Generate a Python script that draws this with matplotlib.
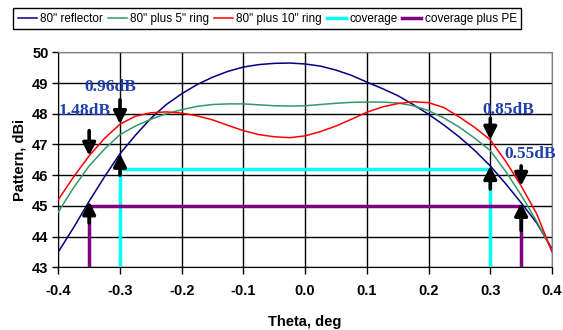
import matplotlib.pyplot as plt
import numpy as np

theta = [-0.4, -0.375, -0.35, -0.325, -0.3, -0.275, -0.25, -0.225, -0.2, -0.175,
         -0.15, -0.125, -0.1, -0.075, -0.05, -0.025, 0.0, 0.025, 0.05, 0.075,
         0.1, 0.125, 0.15, 0.175, 0.2, 0.225, 0.25, 0.275, 0.3, 0.325,
         0.35, 0.375, 0.4]

reflector = [43.5, 44.3, 45.15, 45.95, 46.7, 47.3, 47.85, 48.3, 48.65, 48.95,
             49.19, 49.38, 49.52, 49.6, 49.64, 49.65, 49.62, 49.55, 49.42, 49.25,
             49.03, 48.82, 48.59, 48.3, 47.98, 47.63, 47.24, 46.8, 46.3, 45.72,
             45.1, 44.45, 43.6]

ring5 = [44.8, 45.6, 46.3, 46.85, 47.32, 47.6, 47.82, 48.0, 48.13, 48.24,
         48.3, 48.32, 48.32, 48.29, 48.26, 48.25, 48.26, 48.3, 48.34, 48.37,
         48.38, 48.38, 48.35, 48.26, 48.1, 47.86, 47.56, 47.2, 46.8, 46.12,
         45.35, 44.5, 43.55]

ring10 = [45.2, 45.95, 46.63, 47.2, 47.66, 47.92, 48.03, 48.06, 48.02, 47.93,
          47.8, 47.62, 47.45, 47.32, 47.25, 47.22, 47.28, 47.42, 47.6, 47.82,
          48.05, 48.22, 48.33, 48.39, 48.36, 48.2, 47.89, 47.55, 47.15, 46.45,
          45.65, 44.75, 43.5]

# coverage requirement: edge angle and level
cov_edge = 0.3
cov_level = 46.2
pe_edge = 0.35
pe_level = 45.0

# annotated angles with arrow tails (down arrow to ring10, up arrow to reflector)
mark_theta = [-0.35, -0.3, 0.3, 0.35]
down_tail = [47.45, 48.45, 47.85, 46.3]
up_tail = [44.45, 46.0, 45.55, 44.2]
label_pos = [(-0.357, 48.08), (-0.315, 48.86), (0.33, 48.13), (0.365, 46.68)]

fig = plt.figure(figsize=(5.63, 3.30), dpi=100)
ax = fig.add_axes([58.3 / 563, 1 - 267.3 / 330, (552 - 58.3) / 563, (267.3 - 52.3) / 330])

ax.plot(theta, reflector, color='#000080', lw=1.1, label='80" reflector', zorder=4)
ax.plot(theta, ring5, color='#339966', lw=1.1, label='80" plus 5" ring', zorder=4)
ax.plot(theta, ring10, color='#ff0000', lw=1.1, label='80" plus 10" ring', zorder=4)
ax.plot([-cov_edge, -cov_edge, cov_edge, cov_edge], [43, cov_level, cov_level, 43],
        color='#00ffff', lw=2.5, label='coverage', zorder=3)
ax.plot([-pe_edge, -pe_edge, pe_edge, pe_edge], [43, pe_level, pe_level, 43],
        color='#800080', lw=2.5, label='coverage plus PE', zorder=3)

arrow_style = dict(arrowstyle='-|>,head_length=0.75,head_width=0.38', mutation_scale=10,
                   lw=2.6, color='black', shrinkA=0, shrinkB=0)
for t, dt, ut, (lx, ly) in zip(mark_theta, down_tail, up_tail, label_pos):
    i = theta.index(t)
    ax.annotate('', xy=(t, ring10[i]), xytext=(t, dt), arrowprops=arrow_style, zorder=5)
    ax.annotate('', xy=(t, reflector[i]), xytext=(t, ut), arrowprops=arrow_style, zorder=5)
    ax.text(lx, ly, f'{ring10[i] - reflector[i]:.2f}dB', color='#1f3fae', fontsize=12.5,
            fontweight='bold', family='Liberation Serif', ha='center', va='center', zorder=6)

ax.set_xlim(-0.4, 0.4)
ax.set_ylim(43, 50)
ax.set_xticks(np.arange(-0.4, 0.41, 0.1))
ax.set_xticklabels(['-0.4', '-0.3', '-0.2', '-0.1', '0.0', '0.1', '0.2', '0.3', '0.4'])
ax.set_yticks(range(43, 51))
ax.grid(True, color='black', lw=1)
ax.set_axisbelow(True)
ax.tick_params(direction='out', width=1, labelsize=10.5)
ax.tick_params(axis='x', length=5, pad=7)
ax.tick_params(axis='y', length=4, pad=3)
for lab in ax.get_xticklabels() + ax.get_yticklabels():
    lab.set_fontweight('bold')
    lab.set_family('Liberation Sans')
ax.spines['top'].set_color('#808080')
ax.spines['right'].set_color('#808080')
ax.set_xlabel('Theta, deg', fontsize=10.5, fontweight='bold', family='Liberation Sans', labelpad=12)
ax.set_ylabel('Pattern, dBi', fontsize=10.5, fontweight='bold', family='Liberation Sans', labelpad=4)

fig.legend(loc='upper left', bbox_to_anchor=(13 / 563, 1 - 8 / 330), ncol=5,
           prop={'family': 'Liberation Sans', 'size': 8.5}, handlelength=1.6,
           columnspacing=0.4, handletextpad=0.3, borderpad=0.4, borderaxespad=0,
           fancybox=False, edgecolor='black', framealpha=1)

fig.savefig('out.png', dpi=100)
